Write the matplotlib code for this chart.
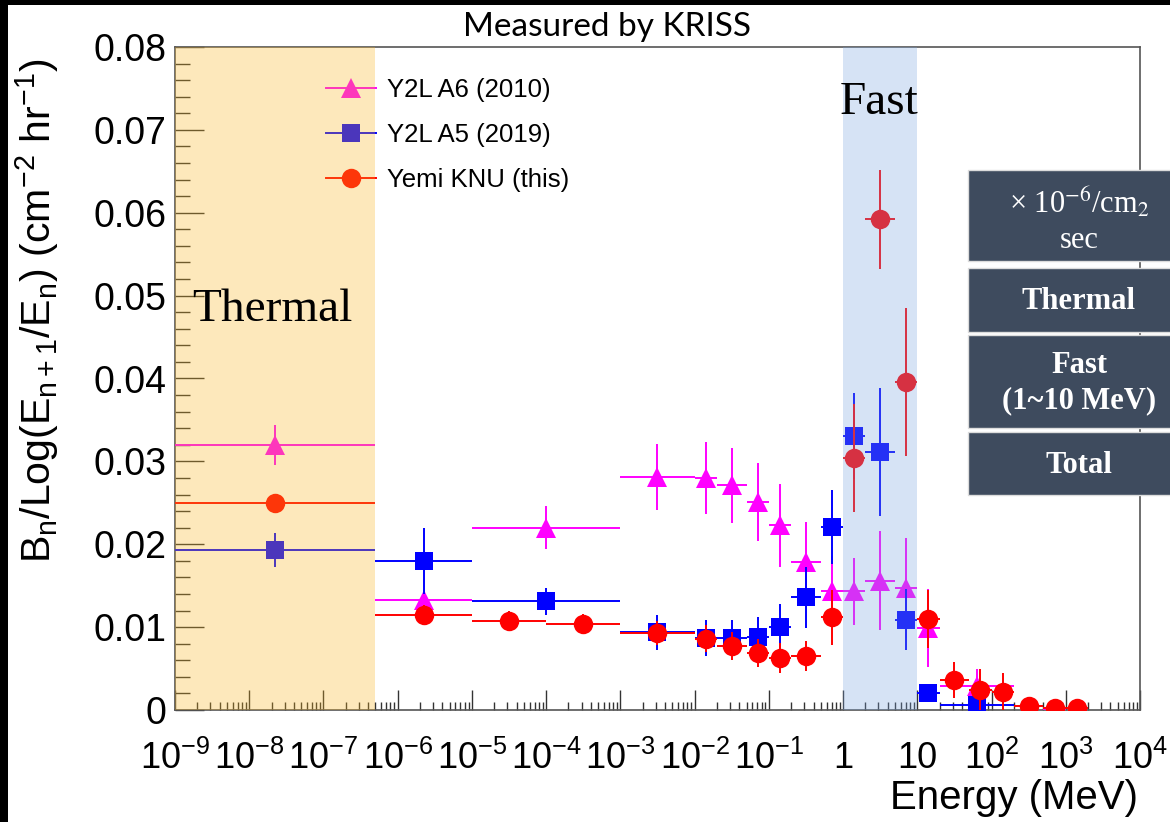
import matplotlib
matplotlib.use('Agg')
import matplotlib.pyplot as plt
from matplotlib.patches import Rectangle
from matplotlib.lines import Line2D
from matplotlib.ticker import FixedLocator, LogLocator, MultipleLocator, NullFormatter

plt.rcParams['font.family'] = ['Liberation Sans', 'DejaVu Sans']
plt.rcParams['mathtext.fontset'] = 'custom'
plt.rcParams['mathtext.rm'] = 'Liberation Sans'
plt.rcParams['mathtext.it'] = 'Liberation Sans'
plt.rcParams['mathtext.bf'] = 'Liberation Sans:bold'

# ---------------- data ----------------
a6_label = 'Y2L A6 (2010)'
a6_e = [2.24e-8, 2.24e-6, 1.0e-4, 3.16e-3, 1.41e-2, 3.16e-2, 7.07e-2, 0.141, 0.316, 0.707,
        1.41, 3.16, 7.07, 14.1, 63.0, 700.0]
a6_lo = [1e-9, 5e-7, 1e-5, 1e-3, 1e-2, 2e-2, 5e-2, 0.1, 0.2, 0.5, 1, 2, 5, 10, 20, 500]
a6_hi = [5e-7, 1e-5, 1e-3, 1e-2, 2e-2, 5e-2, 0.1, 0.2, 0.5, 1, 2, 5, 10, 20, 200, 1000]
a6_val = [0.0320, 0.0133, 0.0220, 0.0281, 0.0280, 0.0271, 0.0251, 0.0223, 0.0179, 0.0144,
          0.0143, 0.0156, 0.0147, 0.0099, 0.0029, 0.0000]
a6_err = [0.0024, 0.0010, 0.0026, 0.0040, 0.0043, 0.0045, 0.0047, 0.0050, 0.0048, 0.0042,
          0.0041, 0.0060, 0.0060, 0.0047, 0.0021, 0.0005]

a5_label = 'Y2L A5 (2019)'
a5_e = [2.24e-8, 2.24e-6, 1.0e-4, 3.16e-3, 1.41e-2, 3.16e-2, 7.07e-2, 0.141, 0.316, 0.707,
        1.41, 3.16, 7.07, 14.1, 63.0]
a5_lo = [1e-9, 5e-7, 1e-5, 1e-3, 1e-2, 2e-2, 5e-2, 0.1, 0.2, 0.5, 1, 2, 5, 10, 20]
a5_hi = [5e-7, 1e-5, 1e-3, 1e-2, 2e-2, 5e-2, 0.1, 0.2, 0.5, 1, 2, 5, 10, 20, 200]
a5_val = [0.0193, 0.0180, 0.0131, 0.0094, 0.0087, 0.0087, 0.0088, 0.0100, 0.0136, 0.0221,
          0.0331, 0.0311, 0.0109, 0.0021, 0.0006]
a5_err = [0.0020, 0.0040, 0.0016, 0.0021, 0.0022, 0.0022, 0.0024, 0.0028, 0.0037, 0.0045,
          0.0052, 0.0077, 0.0037, 0.0003, 0.0003]

knu_label = 'Yemi KNU (this)'
knu_e = [2.24e-8, 2.24e-6, 3.16e-5, 3.16e-4, 3.16e-3, 1.41e-2, 3.16e-2, 7.07e-2, 0.141, 0.316,
         0.707, 1.41, 3.16, 7.07, 14.1, 31.6, 70.7, 141.0, 316.0, 707.0, 1414.0]
knu_lo = [1e-9, 5e-7, 1e-5, 1e-4, 1e-3, 1e-2, 2e-2, 5e-2, 0.1, 0.2, 0.5, 1, 2, 5, 10, 20, 50,
          100, 200, 500, 1000]
knu_hi = [5e-7, 1e-5, 1e-4, 1e-3, 1e-2, 2e-2, 5e-2, 0.1, 0.2, 0.5, 1, 2, 5, 10, 20, 50, 100,
          200, 500, 1000, 2000]
knu_val = [0.0250, 0.0115, 0.0107, 0.0104, 0.0093, 0.0086, 0.0077, 0.0069, 0.0063, 0.0065,
           0.0112, 0.0304, 0.0592, 0.0396, 0.0110, 0.0036, 0.0024, 0.0022, 0.0005, 0.0002, 0.0002]
knu_err = [0.0003, 0.0012, 0.0012, 0.0012, 0.0014, 0.0016, 0.0017, 0.0017, 0.0018, 0.0018,
           0.0033, 0.0065, 0.0060, 0.0089, 0.0035, 0.0022, 0.0025, 0.0023, 0.0003, 0.0002, 0.0002]

x_ticks = [1e-9, 1e-8, 1e-7, 1e-6, 1e-5, 1e-4, 1e-3, 1e-2, 1e-1, 1, 10, 1e2, 1e3, 1e4]
x_ticklabels = ['$10^{-9}$', '$10^{-8}$', '$10^{-7}$', '$10^{-6}$', '$10^{-5}$', '$10^{-4}$',
                '$10^{-3}$', '$10^{-2}$', '$10^{-1}$', '1', '10', '$10^{2}$', '$10^{3}$', '$10^{4}$']
y_ticks = [0, 0.01, 0.02, 0.03, 0.04, 0.05, 0.06, 0.07, 0.08]
y_ticklabels = ['0', '0.01', '0.02', '0.03', '0.04', '0.05', '0.06', '0.07', '0.08']

thermal_range = (1e-9, 5e-7)
fast_range = (1.0, 10.0)

table_rows = ['× 10$^{-6}$/cm$_2$\nsec', 'Thermal', 'Fast\n(1~10 MeV)', 'Total']

# ---------------- figure ----------------
W, H = 1170, 822
fig = plt.figure(figsize=(W / 100, H / 100), dpi=100)
fig.patch.set_facecolor('white')


def fx(px):
    return px / W


def fy(py):
    return 1 - py / H


ax = fig.add_axes([fx(175), fy(710), fx(1140) - fx(175), fy(47) - fy(710)])
ax.set_xscale('log')
ax.set_xlim(1e-9, 1e4)
ax.set_ylim(0, 0.08)


def draw(e, lo, hi, val, err, color, marker, ms, z):
    xe = [[c - l for c, l in zip(e, lo)], [h - c for c, h in zip(e, hi)]]
    ax.errorbar(e, val, xerr=xe, yerr=err, fmt=marker, color=color, ms=ms, mew=0,
                elinewidth=1.4, capsize=2.5, capthick=1.4, zorder=z)


draw(a6_e, a6_lo, a6_hi, a6_val, a6_err, '#ff00ff', '^', 14, 3)
draw(a5_e, a5_lo, a5_hi, a5_val, a5_err, '#0000ff', 's', 13, 4)
draw(knu_e, knu_lo, knu_hi, knu_val, knu_err, '#ff0000', 'o', 14, 5)

# bands drawn on top, semi transparent
ax.add_patch(Rectangle((thermal_range[0], 0), thermal_range[1] - thermal_range[0], 0.08,
                       facecolor=(0.976, 0.71, 0.12), alpha=0.3, lw=0, zorder=20, clip_on=False))
ax.add_patch(Rectangle((fast_range[0], 0), fast_range[1] - fast_range[0], 0.08,
                       facecolor=(0.48, 0.64, 0.87), alpha=0.3, lw=0, zorder=20, clip_on=False))

ax.text(1.7e-9, 0.0483, 'Thermal', family='Liberation Serif', fontsize=34, va='center',
        ha='left', zorder=30)
ax.text(3.1, 0.0733, 'Fast', family='Liberation Serif', fontsize=34, va='center',
        ha='center', zorder=30)

# axes styling
ax.xaxis.set_major_locator(FixedLocator(x_ticks))
ax.set_xticklabels(x_ticklabels)
ax.xaxis.set_minor_locator(LogLocator(base=10, subs=[2, 3, 4, 5, 6, 7, 8, 9], numticks=30))
ax.xaxis.set_minor_formatter(NullFormatter())
ax.set_yticks(y_ticks)
ax.set_yticklabels(y_ticklabels)
ax.yaxis.set_minor_locator(MultipleLocator(0.002))
ax.tick_params(axis='both', which='both', direction='in', top=False, right=False,
               color='#333333', width=1.0)
ax.tick_params(axis='x', which='major', length=14.5, labelsize=26, pad=22)
ax.tick_params(axis='x', which='minor', length=6)
ax.tick_params(axis='y', which='major', length=21, labelsize=27, pad=6)
ax.tick_params(axis='y', which='minor', length=10.5)
for s in ax.spines.values():
    s.set_color('#555555')
    s.set_linewidth(1.2)

# legend (drawn below the band overlay)
handles = [
    Line2D([], [], color='#ff00ff', marker='^', ms=14, mew=0, lw=1.4),
    Line2D([], [], color='#0000ff', marker='s', ms=13, mew=0, lw=1.4),
    Line2D([], [], color='#ff0000', marker='o', ms=14, mew=0, lw=1.4),
]
leg = ax.legend(handles, [a6_label, a5_label, knu_label], loc='upper left',
                bbox_to_anchor=((326 - 175) / 965, (710 - 78) / 663), frameon=False,
                fontsize=18.5, handlelength=1.95, handletextpad=0.42, labelspacing=0.82,
                borderpad=0, borderaxespad=0)
leg.set_zorder(6)

# axis labels
fig.text(fx(37), fy(311), 'B$_\\mathrm{n}$/Log(E$_\\mathrm{n+1}$/E$_\\mathrm{n}$) (cm$^{-2}$ hr$^{-1}$)',
         rotation=90, ha='center', va='center', fontsize=29.5)
fig.text(fx(1138), fy(798), 'Energy (MeV)', ha='right', va='center', fontsize=29)
fig.text(fx(607), fy(27), 'Measured by KRISS', ha='center', va='center', fontsize=24,
         family=['Lato', 'Liberation Sans'])

# table on the right
box_color = '#3e4b5e'
boxes = [(170, 261), (268, 332), (335, 428), (432, 495)]
for (t, b) in boxes:
    fig.add_artist(Rectangle((fx(968), fy(b)), fx(1175) - fx(968), fy(t) - fy(b),
                             transform=fig.transFigure, facecolor=box_color,
                             edgecolor='#dcdcdc', lw=1.0, zorder=5))
row_y = [220, 301, 383, 465]
for i, (txt, yy) in enumerate(zip(table_rows, row_y)):
    fig.text(fx(1079), fy(yy), txt, ha='center', va='center', color='white',
             fontsize=22, family='Liberation Serif', fontweight='normal' if i == 0 else 'bold',
             math_fontfamily='stix', linespacing=1.25, zorder=6)

# black border strips
fig.add_artist(Rectangle((0, fy(5)), 1, fy(0) - fy(5), transform=fig.transFigure,
                         facecolor='black', lw=0, zorder=7))
fig.add_artist(Rectangle((0, 0), fx(8), 1, transform=fig.transFigure,
                         facecolor='black', lw=0, zorder=7))

fig.savefig('out.png', dpi=100, facecolor='white')
